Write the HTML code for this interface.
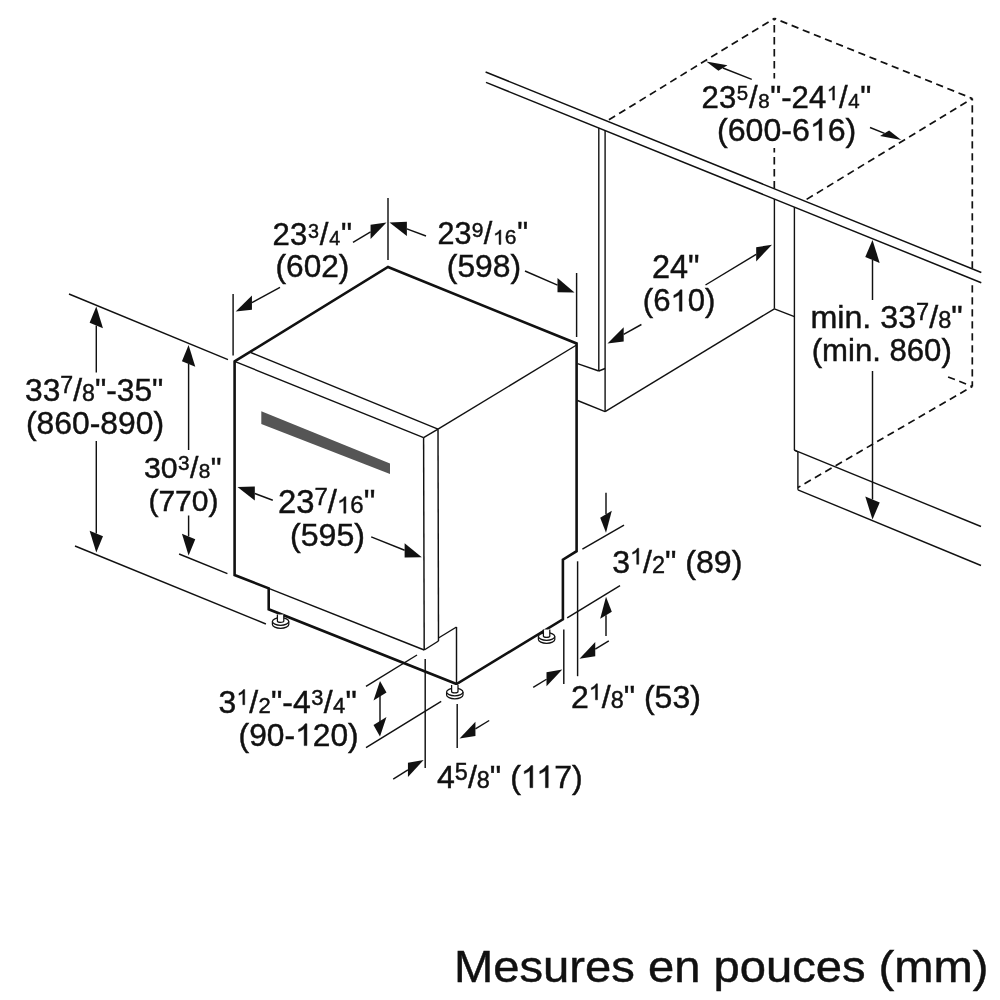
<!DOCTYPE html>
<html><head><meta charset="utf-8"><style>
html,body{margin:0;padding:0;background:#fff;width:1000px;height:1000px;overflow:hidden}
svg{display:block;filter:blur(0.35px)}
text{font-family:"Liberation Sans",sans-serif;fill:#111;stroke:#111;stroke-width:0.45px} .h1{fill-opacity:0;stroke-opacity:0}
</style></head><body>
<svg width="1000" height="1000" viewBox="0 0 1000 1000">
<rect width="1000" height="1000" fill="#fff"/>
<g stroke="#111" fill="none" stroke-linecap="butt">
<line x1="485.60" y1="72.00" x2="981.30" y2="272.50" stroke-width="1.5"/>
<line x1="486.00" y1="82.40" x2="981.30" y2="282.70" stroke-width="1.5"/>
<line x1="598.80" y1="128.00" x2="598.80" y2="371.00" stroke-width="1.4"/>
<line x1="605.10" y1="131.00" x2="605.10" y2="411.60" stroke-width="1.4"/>
<line x1="577.50" y1="363.70" x2="598.80" y2="371.00" stroke-width="1.4"/>
<line x1="598.80" y1="371.00" x2="605.10" y2="368.50" stroke-width="1.4"/>
<line x1="577.50" y1="400.50" x2="605.10" y2="411.60" stroke-width="1.4"/>
<line x1="605.10" y1="411.60" x2="774.40" y2="308.80" stroke-width="1.4"/>
<line x1="774.40" y1="199.00" x2="774.40" y2="308.80" stroke-width="1.4"/>
<line x1="794.40" y1="207.00" x2="794.40" y2="450.20" stroke-width="1.4"/>
<line x1="774.40" y1="308.80" x2="794.40" y2="316.60" stroke-width="1.4"/>
<line x1="794.40" y1="450.20" x2="981.00" y2="526.50" stroke-width="1.4"/>
<line x1="797.90" y1="452.00" x2="797.90" y2="489.80" stroke-width="1.4"/>
<line x1="794.40" y1="450.20" x2="797.90" y2="452.00" stroke-width="1.4"/>
<line x1="797.90" y1="489.80" x2="981.00" y2="565.50" stroke-width="1.4"/>
<line x1="774.30" y1="18.40" x2="607.20" y2="120.80" stroke-width="1.7" stroke-dasharray="7.3 4.7" stroke-dashoffset="5.3"/>
<line x1="774.30" y1="18.40" x2="972.30" y2="98.50" stroke-width="1.7" stroke-dasharray="7.3 4.7" stroke-dashoffset="5.3"/>
<line x1="774.30" y1="18.40" x2="774.30" y2="78.50" stroke-width="1.7" stroke-dasharray="7.3 4.7" stroke-dashoffset="5.3"/>
<line x1="774.30" y1="148.00" x2="774.30" y2="188.50" stroke-width="1.7" stroke-dasharray="7.3 4.7" stroke-dashoffset="134.9"/>
<line x1="972.30" y1="98.50" x2="805.60" y2="200.00" stroke-width="1.7" stroke-dasharray="7.3 4.7" stroke-dashoffset="5.3"/>
<line x1="972.30" y1="98.50" x2="972.30" y2="268.30" stroke-width="1.7" stroke-dasharray="7.3 4.7" stroke-dashoffset="5.3"/>
<line x1="972.30" y1="284.40" x2="972.30" y2="386.40" stroke-width="1.7" stroke-dasharray="7.3 4.7" stroke-dashoffset="191.20000000000002"/>
<line x1="972.30" y1="386.40" x2="944.20" y2="375.40" stroke-width="1.7" stroke-dasharray="7.3 4.7" stroke-dashoffset="5.3"/>
<line x1="972.30" y1="386.40" x2="797.90" y2="487.60" stroke-width="1.7" stroke-dasharray="7.3 4.7" stroke-dashoffset="5.3"/>
<polygon points="261.3,411.3 390,463.5 390,474 261.3,424" fill="#555" stroke="none"/>
<line x1="234.60" y1="361.40" x2="423.60" y2="437.60" stroke-width="1.45"/>
<line x1="250.80" y1="352.50" x2="438.00" y2="429.20" stroke-width="1.45"/>
<line x1="423.60" y1="437.60" x2="438.00" y2="429.20" stroke-width="1.45"/>
<line x1="438.00" y1="429.20" x2="576.60" y2="345.00" stroke-width="1.45"/>
<line x1="423.60" y1="437.60" x2="424.20" y2="650.00" stroke-width="1.45"/>
<line x1="438.00" y1="429.20" x2="438.50" y2="641.00" stroke-width="1.45"/>
<line x1="268.70" y1="588.30" x2="424.20" y2="650.00" stroke-width="1.45"/>
<line x1="424.20" y1="650.00" x2="438.50" y2="641.00" stroke-width="1.45"/>
<line x1="438.50" y1="638.00" x2="456.50" y2="627.00" stroke-width="1.45"/>
<line x1="456.50" y1="627.00" x2="456.50" y2="684.00" stroke-width="1.45"/>
<polygon points="234.60,361.40 388.00,267.00 576.60,343.50 576.60,551.20 562.90,559.70 562.90,619.30 456.50,684.00 268.70,609.30 268.70,588.30 234.60,575.00" fill="none" stroke-width="2.6" stroke-linejoin="miter"/>
<g fill="#fff" stroke-width="1.25"><path d="M272.40000000000003,621.5 v3 a8.2,3.8 0 0 0 16.4,0 v-3"/><ellipse cx="280.6" cy="621.5" rx="8.2" ry="3.8"/><path d="M277.40000000000003,614.5 v6.5 a3.2,1.4 0 0 0 6.4,0 v-6.5"/></g>
<g fill="#fff" stroke-width="1.25"><path d="M446.6,692 v3 a8.2,3.8 0 0 0 16.4,0 v-3"/><ellipse cx="454.8" cy="692" rx="8.2" ry="3.8"/><path d="M451.6,685 v6.5 a3.2,1.4 0 0 0 6.4,0 v-6.5"/></g>
<g fill="#fff" stroke-width="1.25"><path d="M538.4,636.5 v3 a8.2,3.8 0 0 0 16.4,0 v-3"/><ellipse cx="546.6" cy="636.5" rx="8.2" ry="3.8"/><path d="M543.4,629.5 v6.5 a3.2,1.4 0 0 0 6.4,0 v-6.5"/></g>
<line x1="69.00" y1="294.00" x2="228.00" y2="359.60" stroke-width="1.45"/>
<line x1="75.00" y1="546.00" x2="265.90" y2="624.00" stroke-width="1.45"/>
<line x1="96.30" y1="325.50" x2="96.30" y2="372.50" stroke-width="1.45"/>
<polygon points="96.30,306.50 102.97,328.20 89.63,322.80" fill="#111" stroke="none"/>
<line x1="96.30" y1="533.50" x2="96.30" y2="441.00" stroke-width="1.45"/>
<polygon points="96.30,552.50 102.97,536.20 89.63,530.80" fill="#111" stroke="none"/>
<line x1="179.10" y1="554.00" x2="227.40" y2="573.60" stroke-width="1.45"/>
<line x1="188.60" y1="364.00" x2="188.60" y2="450.00" stroke-width="1.45"/>
<polygon points="188.60,345.00 195.27,366.70 181.93,361.30" fill="#111" stroke="none"/>
<line x1="188.60" y1="536.50" x2="188.60" y2="515.50" stroke-width="1.45"/>
<polygon points="188.60,555.50 195.27,539.20 181.93,533.80" fill="#111" stroke="none"/>
<line x1="233.10" y1="294.00" x2="233.10" y2="355.40" stroke-width="1.45"/>
<line x1="388.00" y1="198.00" x2="388.00" y2="260.00" stroke-width="1.45"/>
<line x1="251.95" y1="302.66" x2="280.00" y2="287.40" stroke-width="1.45"/>
<polygon points="235.70,311.50 251.95,309.76 251.95,295.56" fill="#111" stroke="none"/>
<line x1="370.59" y1="231.95" x2="353.00" y2="242.40" stroke-width="1.45"/>
<polygon points="386.50,222.50 370.59,239.05 370.59,224.85" fill="#111" stroke="none"/>
<line x1="576.60" y1="273.00" x2="576.60" y2="337.00" stroke-width="1.45"/>
<line x1="406.85" y1="228.92" x2="426.00" y2="236.00" stroke-width="1.45"/>
<polygon points="389.50,222.50 406.85,236.02 406.85,221.82" fill="#111" stroke="none"/>
<line x1="557.53" y1="285.13" x2="525.00" y2="271.00" stroke-width="1.45"/>
<polygon points="574.50,292.50 557.53,292.23 557.53,278.03" fill="#111" stroke="none"/>
<line x1="254.81" y1="493.52" x2="272.80" y2="500.30" stroke-width="1.45"/>
<polygon points="237.50,487.00 254.81,500.62 254.81,486.42" fill="#111" stroke="none"/>
<line x1="404.64" y1="550.28" x2="371.20" y2="536.80" stroke-width="1.45"/>
<polygon points="421.80,557.20 404.64,557.38 404.64,543.18" fill="#111" stroke="none"/>
<line x1="366.00" y1="686.40" x2="417.00" y2="655.00" stroke-width="1.45"/>
<line x1="366.00" y1="747.70" x2="441.20" y2="701.30" stroke-width="1.45"/>
<polygon points="380.00,681.00 386.49,692.54 373.51,700.46" fill="#111" stroke="none"/>
<polygon points="380.00,736.50 386.49,717.04 373.51,724.96" fill="#111" stroke="none"/>
<line x1="380.00" y1="690.00" x2="380.00" y2="728.00" stroke-width="1.45"/>
<line x1="425.20" y1="659.00" x2="425.20" y2="768.00" stroke-width="1.45"/>
<line x1="457.20" y1="704.00" x2="457.20" y2="748.00" stroke-width="1.45"/>
<line x1="475.43" y1="728.83" x2="489.20" y2="720.50" stroke-width="1.45"/>
<polygon points="459.60,738.40 475.43,735.93 475.43,721.73" fill="#111" stroke="none"/>
<line x1="407.96" y1="769.88" x2="393.20" y2="779.20" stroke-width="1.45"/>
<polygon points="423.60,760.00 407.96,776.98 407.96,762.78" fill="#111" stroke="none"/>
<line x1="582.40" y1="549.10" x2="624.00" y2="525.10" stroke-width="1.45"/>
<line x1="567.20" y1="617.90" x2="620.00" y2="585.60" stroke-width="1.45"/>
<line x1="577.60" y1="561.30" x2="577.60" y2="676.20" stroke-width="1.45"/>
<line x1="563.80" y1="629.40" x2="563.80" y2="684.00" stroke-width="1.45"/>
<line x1="606.00" y1="514.30" x2="606.00" y2="492.80" stroke-width="1.45"/>
<polygon points="606.00,532.80 611.81,510.76 600.19,517.84" fill="#111" stroke="none"/>
<line x1="606.00" y1="615.30" x2="606.00" y2="636.00" stroke-width="1.45"/>
<polygon points="606.00,596.80 611.81,611.76 600.19,618.84" fill="#111" stroke="none"/>
<line x1="595.26" y1="649.12" x2="608.80" y2="640.80" stroke-width="1.45"/>
<polygon points="579.50,658.80 595.26,656.22 595.26,642.02" fill="#111" stroke="none"/>
<line x1="546.52" y1="679.25" x2="533.20" y2="687.40" stroke-width="1.45"/>
<polygon points="562.30,669.60 546.52,686.35 546.52,672.15" fill="#111" stroke="none"/>
<line x1="756.18" y1="254.29" x2="705.50" y2="285.00" stroke-width="1.45"/>
<polygon points="772.00,244.70 756.18,261.39 756.18,247.19" fill="#111" stroke="none"/>
<line x1="623.66" y1="334.39" x2="641.40" y2="324.50" stroke-width="1.45"/>
<polygon points="607.50,343.40 623.66,341.49 623.66,327.29" fill="#111" stroke="none"/>
<line x1="722.93" y1="68.03" x2="751.75" y2="79.45" stroke-width="1.45"/>
<polygon points="706.20,61.40 727.46,65.27 718.41,70.79" fill="#111" stroke="none"/>
<line x1="884.58" y1="133.32" x2="870.00" y2="127.50" stroke-width="1.45"/>
<polygon points="901.30,140.00 889.11,130.56 880.06,136.08" fill="#111" stroke="none"/>
<line x1="872.50" y1="260.00" x2="872.50" y2="300.00" stroke-width="1.45"/>
<polygon points="872.50,240.00 879.73,262.93 865.27,257.07" fill="#111" stroke="none"/>
<line x1="872.50" y1="499.50" x2="872.50" y2="371.00" stroke-width="1.45"/>
<polygon points="872.50,519.50 879.73,502.43 865.27,496.57" fill="#111" stroke="none"/>
</g>
<text x="25.00" y="401.00" style="font-size:31.74px"><tspan>33</tspan><tspan dy="-8.06" style="font-size:23.17px">7</tspan><tspan dy="8.06">/</tspan><tspan style="font-size:23.17px">8</tspan><tspan>"-35"</tspan></text>
<text x="26.00" y="434.00" style="font-size:31.86px"><tspan>(860-890)</tspan></text>
<text x="144.00" y="478.00" style="font-size:30.29px"><tspan>30</tspan><tspan dy="-7.69" dx="0.37" style="font-size:20.79px">3</tspan><tspan dy="7.69" dx="0.37">/</tspan><tspan dx="0.37" style="font-size:20.79px">8</tspan><tspan dx="0.37">"</tspan></text>
<text x="148.40" y="510.60" style="font-size:30.06px"><tspan>(770)</tspan></text>
<text x="272.60" y="245.40" style="font-size:31.09px"><tspan>23</tspan><tspan dy="-7.90" dx="0.82" style="font-size:19.75px">3</tspan><tspan dy="7.90" dx="0.82">/</tspan><tspan dx="0.82" style="font-size:19.75px">4</tspan><tspan dx="0.82">"</tspan></text>
<text x="275.60" y="277.00" style="font-size:31.62px"><tspan>(602)</tspan></text>
<text x="437.40" y="244.40" style="font-size:30.57px"><tspan>23</tspan><tspan dy="-7.76" dx="0.37" style="font-size:20.98px">9</tspan><tspan dy="7.76" dx="0.37">/</tspan><tspan dx="0.74" style="font-size:20.98px"><tspan class="h1">1</tspan>6</tspan><tspan dx="0.74">"</tspan></text>
<text x="446.80" y="276.60" style="font-size:31.82px"><tspan>(598)</tspan></text>
<text x="701.60" y="108.00" style="font-size:31.14px"><tspan>23</tspan><tspan dy="-7.91" dx="0.63" style="font-size:20.47px">5</tspan><tspan dy="7.91" dx="0.63">/</tspan><tspan dx="0.63" style="font-size:20.47px">8</tspan><tspan dx="0.63">"-24</tspan><tspan dy="-7.91" dx="0.63" style="font-size:20.47px"><tspan class="h1">1</tspan></tspan><tspan dy="7.91" dx="0.63">/</tspan><tspan dx="0.63" style="font-size:20.47px">4</tspan><tspan dx="0.63">"</tspan></text>
<text x="717.00" y="140.60" style="font-size:32.14px"><tspan>(600-6<tspan class="h1">1</tspan>6)</tspan></text>
<text x="652.00" y="278.20" style="font-size:32.45px"><tspan>24"</tspan></text>
<text x="642.80" y="311.20" style="font-size:31.10px"><tspan>(6<tspan class="h1">1</tspan>0)</tspan></text>
<text x="810.40" y="328.00" style="font-size:32.24px"><tspan>min. 33</tspan><tspan dy="-8.19" style="font-size:23.54px">7</tspan><tspan dy="8.19">/</tspan><tspan style="font-size:23.54px">8</tspan><tspan>"</tspan></text>
<text x="811.70" y="360.60" style="font-size:31.13px"><tspan>(min. 860)</tspan></text>
<text x="278.00" y="513.20" style="font-size:32.83px"><tspan>23</tspan><tspan dy="-8.34" style="font-size:23.97px">7</tspan><tspan dy="8.34">/</tspan><tspan style="font-size:23.97px"><tspan class="h1">1</tspan>6</tspan><tspan>"</tspan></text>
<text x="290.00" y="545.60" style="font-size:32.13px"><tspan>(595)</tspan></text>
<text x="612.20" y="572.50" style="font-size:32.09px"><tspan>3</tspan><tspan dy="-8.15" style="font-size:23.43px"><tspan class="h1">1</tspan></tspan><tspan dy="8.15">/</tspan><tspan style="font-size:23.43px">2</tspan><tspan>" (89)</tspan></text>
<text x="218.40" y="712.80" style="font-size:31.95px"><tspan>3</tspan><tspan dy="-8.11" dx="0.39" style="font-size:21.93px"><tspan class="h1">1</tspan></tspan><tspan dy="8.11" dx="0.39">/</tspan><tspan dx="0.39" style="font-size:21.93px">2</tspan><tspan dx="0.39">"-4</tspan><tspan dy="-8.11" dx="0.39" style="font-size:21.93px">3</tspan><tspan dy="8.11" dx="0.39">/</tspan><tspan dx="0.39" style="font-size:21.93px">4</tspan><tspan dx="0.39">"</tspan></text>
<text x="238.60" y="745.60" style="font-size:31.77px"><tspan>(90-<tspan class="h1">1</tspan>20)</tspan></text>
<text x="571.00" y="708.00" style="font-size:32.01px"><tspan>2</tspan><tspan dy="-8.13" style="font-size:23.37px"><tspan class="h1">1</tspan></tspan><tspan dy="8.13">/</tspan><tspan style="font-size:23.37px">8</tspan><tspan>" (53)</tspan></text>
<text x="437.00" y="787.70" style="font-size:32.09px"><tspan>4</tspan><tspan dy="-8.15" style="font-size:23.43px">5</tspan><tspan dy="8.15">/</tspan><tspan style="font-size:23.43px">8</tspan><tspan>" (<tspan class="h1">1</tspan><tspan class="h1">1</tspan>7)</tspan></text>
<text x="0" y="0" transform="translate(454.00,981.70) scale(1.0417,1)" style="font-size:45.28px"><tspan>Mesures en pouces (mm)</tspan></text>
<g fill="#111" stroke="#111"><path d="M763,0L583,0L583,1098Q518,1038 412,979Q306,920 222,890L222,1057Q373,1125 486,1221Q599,1318 646,1409L763,1409Z" transform="translate(493.05,244.40) scale(0.01024,-0.01024)" stroke-width="43.9"/><path d="M763,0L583,0L583,1098Q518,1038 412,979Q306,920 222,890L222,1057Q373,1125 486,1221Q599,1318 646,1409L763,1409Z" transform="translate(826.86,100.09) scale(0.01000,-0.01000)" stroke-width="45.0"/><path d="M763,0L583,0L583,1098Q518,1038 412,979Q306,920 222,890L222,1057Q373,1125 486,1221Q599,1318 646,1409L763,1409Z" transform="translate(809.88,140.60) scale(0.01569,-0.01569)" stroke-width="28.7"/><path d="M763,0L583,0L583,1098Q518,1038 412,979Q306,920 222,890L222,1057Q373,1125 486,1221Q599,1318 646,1409L763,1409Z" transform="translate(670.46,311.20) scale(0.01519,-0.01519)" stroke-width="29.6"/><path d="M763,0L583,0L583,1098Q518,1038 412,979Q306,920 222,890L222,1057Q373,1125 486,1221Q599,1318 646,1409L763,1409Z" transform="translate(336.98,513.20) scale(0.01170,-0.01170)" stroke-width="38.4"/><path d="M763,0L583,0L583,1098Q518,1038 412,979Q306,920 222,890L222,1057Q373,1125 486,1221Q599,1318 646,1409L763,1409Z" transform="translate(630.04,564.35) scale(0.01144,-0.01144)" stroke-width="39.3"/><path d="M763,0L583,0L583,1098Q518,1038 412,979Q306,920 222,890L222,1057Q373,1125 486,1221Q599,1318 646,1409L763,1409Z" transform="translate(236.56,704.69) scale(0.01071,-0.01071)" stroke-width="42.0"/><path d="M763,0L583,0L583,1098Q518,1038 412,979Q306,920 222,890L222,1057Q373,1125 486,1221Q599,1318 646,1409L763,1409Z" transform="translate(295.10,745.60) scale(0.01551,-0.01551)" stroke-width="29.0"/><path d="M763,0L583,0L583,1098Q518,1038 412,979Q306,920 222,890L222,1057Q373,1125 486,1221Q599,1318 646,1409L763,1409Z" transform="translate(588.80,699.87) scale(0.01141,-0.01141)" stroke-width="39.4"/><path d="M763,0L583,0L583,1098Q518,1038 412,979Q306,920 222,890L222,1057Q373,1125 486,1221Q599,1318 646,1409L763,1409Z" transform="translate(520.81,787.70) scale(0.01567,-0.01567)" stroke-width="28.7"/><path d="M763,0L583,0L583,1098Q518,1038 412,979Q306,920 222,890L222,1057Q373,1125 486,1221Q599,1318 646,1409L763,1409Z" transform="translate(536.28,787.70) scale(0.01567,-0.01567)" stroke-width="28.7"/></g>
</svg>
</body></html>
